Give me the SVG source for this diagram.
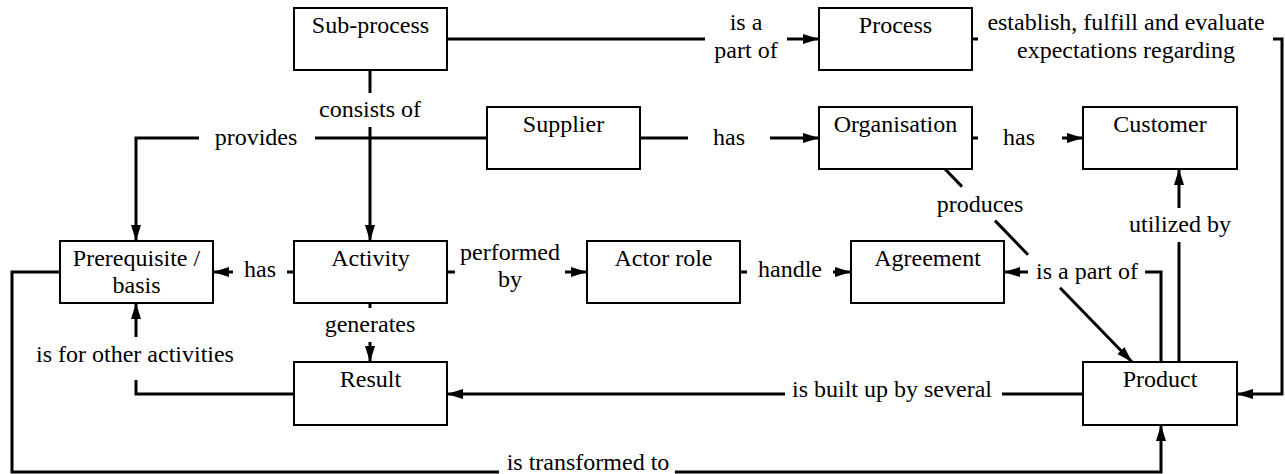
<svg xmlns="http://www.w3.org/2000/svg" width="1285" height="474" viewBox="0 0 1285 474">
<style>
.box rect{fill:#fff;stroke:#000;stroke-width:2}
text{font-family:'Liberation Serif','Times New Roman','DejaVu Serif',serif;font-size:24px;fill:#000;text-anchor:middle}
.c{fill:none;stroke:#000;stroke-width:3}
.a{marker-end:url(#arr)}
</style>
<defs>
<marker id="arr" markerUnits="userSpaceOnUse" markerWidth="17" markerHeight="11" refX="16" refY="5" orient="auto">
<path d="M0,0 L16,5 L0,10 z" fill="#000"/>
</marker>
</defs>
<rect width="1285" height="474" fill="#fff"/>
<g id="connectors">
<path class="c" d="M447,39 H705"/>
<path class="c a" d="M787,39 H819"/>
<text x="746" y="30">is a</text>
<text x="746" y="58">part of</text>
<path class="c" d="M972,39 H978"/>
<text x="1126" y="30">establish, fulfill and evaluate</text>
<text x="1126" y="58">expectations regarding</text>
<path class="c a" d="M1273,39 H1282 V394 H1237"/>
<path class="c" d="M370,70 V93"/>
<text x="370" y="117">consists of</text>
<path class="c a" d="M370,127 V241"/>
<path class="c" d="M487,138 H315"/>
<text x="256" y="145">provides</text>
<path class="c a" d="M199,138 H136 V241"/>
<path class="c" d="M640,138 H688"/>
<text x="729" y="145">has</text>
<path class="c a" d="M770,138 H819"/>
<path class="c" d="M972,138 H978"/>
<text x="1019" y="145">has</text>
<path class="c a" d="M1062,138 H1083"/>
<path class="c" d="M945,169 L962,186.6"/>
<text x="980" y="212">produces</text>
<path class="c" d="M995,220.6 L1028,254.7"/>
<path class="c a" d="M1060,287.7 L1132,362"/>
<path class="c" d="M1161,362 V272 H1145"/>
<text x="1087" y="279">is a part of</text>
<path class="c a" d="M1028,272 H1004"/>
<path class="c" d="M1179,362 V242"/>
<text x="1180" y="232">utilized by</text>
<path class="c a" d="M1179,208 V169"/>
<path class="c" d="M294,272 H287"/>
<text x="260" y="277">has</text>
<path class="c a" d="M233,272 H213"/>
<path class="c" d="M447,272 H455"/>
<text x="510" y="260">performed</text>
<text x="510" y="287">by</text>
<path class="c a" d="M565,272 H587"/>
<path class="c" d="M740,272 H747"/>
<text x="790" y="277">handle</text>
<path class="c a" d="M833,272 H851"/>
<path class="c" d="M370,303 V308"/>
<text x="370" y="332">generates</text>
<path class="c a" d="M370,342 V362"/>
<path class="c" d="M294,394 H136 V380"/>
<text x="135" y="362">is for other activities</text>
<path class="c a" d="M136,337 V303"/>
<path class="c" d="M1083,394 H1002"/>
<text x="892" y="397">is built up by several</text>
<path class="c a" d="M785,394 H447"/>
<path class="c" d="M60,272 H12 V472 H499"/>
<text x="588" y="470">is transformed to</text>
<path class="c a" d="M675,472 H1161 V425"/>
</g>
<g id="sub-process" class="box"><rect x="294" y="8" width="153" height="62"/><text x="370.5" y="33">Sub-process</text></g>
<g id="process" class="box"><rect x="819" y="8" width="153" height="62"/><text x="895.5" y="33">Process</text></g>
<g id="supplier" class="box"><rect x="487" y="107" width="153" height="62"/><text x="563.5" y="132">Supplier</text></g>
<g id="organisation" class="box"><rect x="819" y="107" width="153" height="62"/><text x="895.5" y="132">Organisation</text></g>
<g id="customer" class="box"><rect x="1083" y="107" width="154" height="62"/><text x="1160" y="132">Customer</text></g>
<g id="prerequisite" class="box"><rect x="60" y="241" width="153" height="62"/><text x="136.5" y="266">Prerequisite /</text><text x="136.5" y="293">basis</text></g>
<g id="activity" class="box"><rect x="294" y="241" width="153" height="62"/><text x="370.5" y="266">Activity</text></g>
<g id="actor-role" class="box"><rect x="587" y="241" width="153" height="62"/><text x="663.5" y="266">Actor role</text></g>
<g id="agreement" class="box"><rect x="851" y="241" width="153" height="62"/><text x="927.5" y="266">Agreement</text></g>
<g id="result" class="box"><rect x="294" y="362" width="153" height="63"/><text x="370.5" y="387">Result</text></g>
<g id="product" class="box"><rect x="1083" y="362" width="154" height="63"/><text x="1160" y="387">Product</text></g>
</svg>
